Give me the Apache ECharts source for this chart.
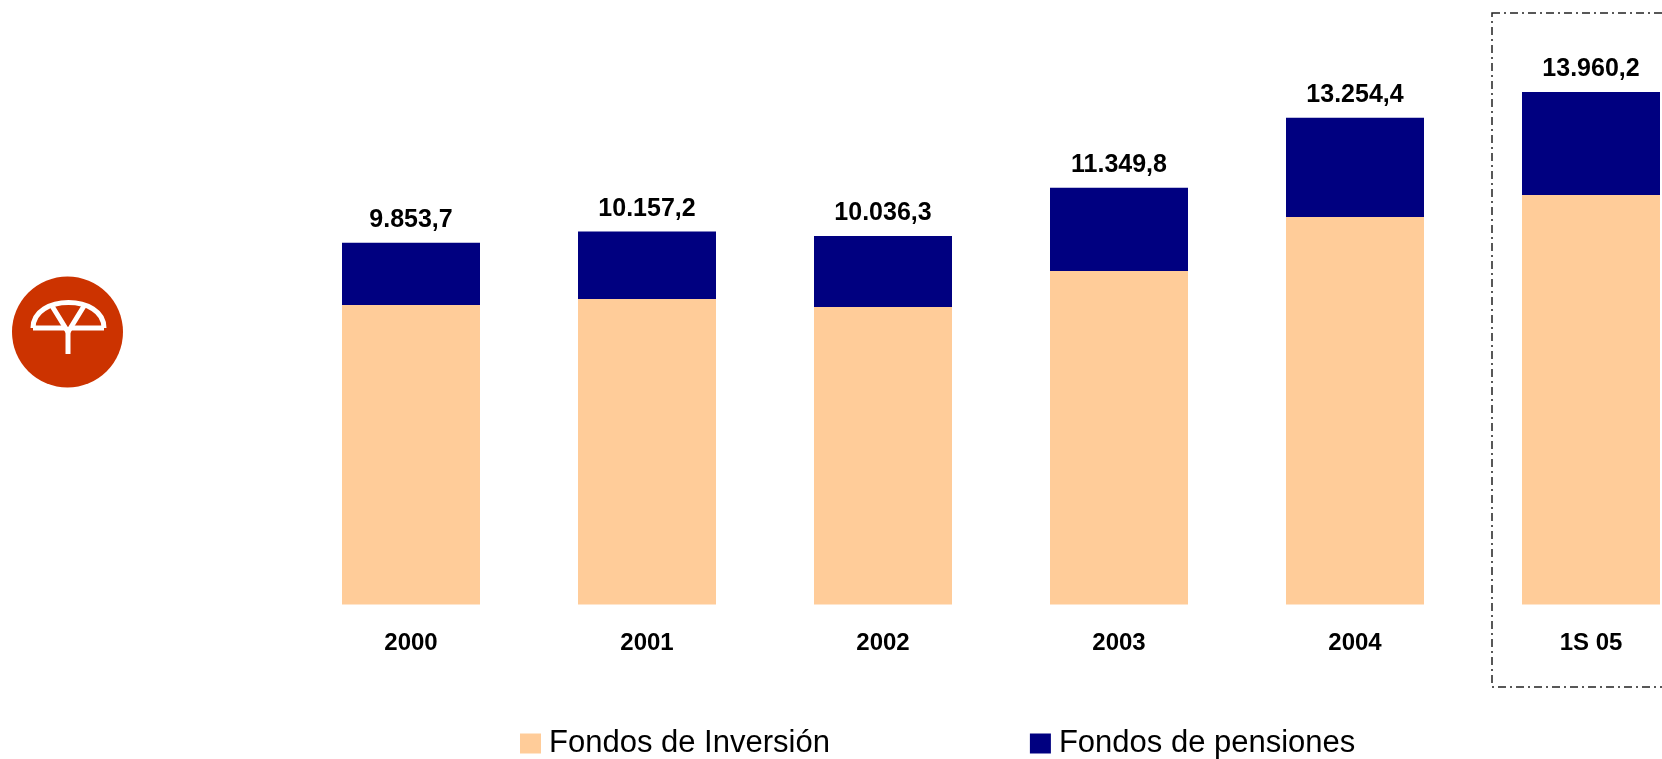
<!DOCTYPE html>
<html>
<head>
<meta charset="utf-8">
<script src="https://cdn.jsdelivr.net/npm/echarts@6/dist/echarts.min.js"></script>
<style>
  html, body { margin: 0; padding: 0; background: #fff; }
  #chart { width: 1662px; height: 759px; }
</style>
</head>
<body>
<div id="chart"></div>
<script>
// categorias del eje x
const categories = ['2000', '2001', '2002', '2003', '2004', '1S 05'];
// millones de euros
const fondosInversion = [8158, 8322, 8104, 9084, 10555, 11155];
const fondosPensiones = [1695.7, 1835.2, 1932.3, 2265.8, 2699.4, 2805.2];
// totales que se muestran encima de cada barra
const totales = ['9.853,7', '10.157,2', '10.036,3', '11.349,8', '13.254,4', '13.960,2'];

const FONT = 'Liberation Sans, Arial, sans-serif';

let chart = echarts.init(document.getElementById('chart'));

// logo: trazos blancos sobre circulo rojo
const logoStroke = { fill: 'none', stroke: '#fff', lineWidth: 5, lineJoin: 'round' };

let option = {
    animation: false,
    textStyle: { fontFamily: FONT },
    // boundaryGap false: the first and last bar sit on the grid edges
    grid: {
        left: 411,
        width: 1180,
        top: 17,
        bottom: 154.5
    },
    legend: {
        left: 520,
        top: 728,
        padding: 0,
        itemGap: 200,
        itemWidth: 21,
        itemHeight: 20,
        icon: 'rect',
        textStyle: { fontSize: 31, color: '#000', fontFamily: FONT, padding: [0, 0, 0, 3] },
        data: ['Fondos de Inversión', 'Fondos de pensiones']
    },
    xAxis: {
        type: 'category',
        data: categories,
        boundaryGap: false,
        axisLine: { show: false },
        axisTick: { show: false },
        axisLabel: {
            margin: 27,
            fontSize: 24,
            fontWeight: 'bold',
            color: '#000',
            fontFamily: FONT
        }
    },
    yAxis: {
        type: 'value',
        min: 0,
        max: 16000,
        show: false,
        splitLine: { show: false }
    },
    graphic: [
        {
            type: 'rect',
            shape: { x: 1492, y: 13, width: 300, height: 674 },
            style: { fill: 'none', stroke: '#222', lineWidth: 1.5, lineDash: [8, 4, 2, 4] }
        },
        {
            type: 'circle',
            shape: { cx: 67.5, cy: 332, r: 55.5 },
            style: { fill: '#CC3300' }
        },
        {
            type: 'bezierCurve',
            shape: { x1: 33, y1: 328, cpx1: 33, cpy1: 294, cpx2: 104, cpy2: 294, x2: 104, y2: 328 },
            style: logoStroke
        },
        {
            type: 'line',
            shape: { x1: 33, y1: 328, x2: 65, y2: 328 },
            style: logoStroke
        },
        {
            type: 'line',
            shape: { x1: 71, y1: 328, x2: 104, y2: 328 },
            style: logoStroke
        },
        {
            type: 'polyline',
            shape: { points: [[52, 306], [68, 332], [84, 306]] },
            style: logoStroke
        },
        {
            type: 'line',
            shape: { x1: 68, y1: 332, x2: 68, y2: 354 },
            style: logoStroke
        }
    ],
    series: [
        {
            name: 'Fondos de Inversión',
            type: 'bar',
            stack: 'total',
            barWidth: 138,
            clip: false,
            itemStyle: { color: '#FFCC99' },
            data: fondosInversion
        },
        {
            name: 'Fondos de pensiones',
            type: 'bar',
            stack: 'total',
            barWidth: 138,
            clip: false,
            itemStyle: { color: '#000080' },
            label: {
                show: true,
                position: 'top',
                distance: 10,
                fontSize: 25,
                fontWeight: 'bold',
                color: '#000',
                fontFamily: FONT,
                formatter: p => totales[p.dataIndex]
            },
            data: fondosPensiones
        }
    ]
};

chart.setOption(option);
</script>
</body>
</html>
